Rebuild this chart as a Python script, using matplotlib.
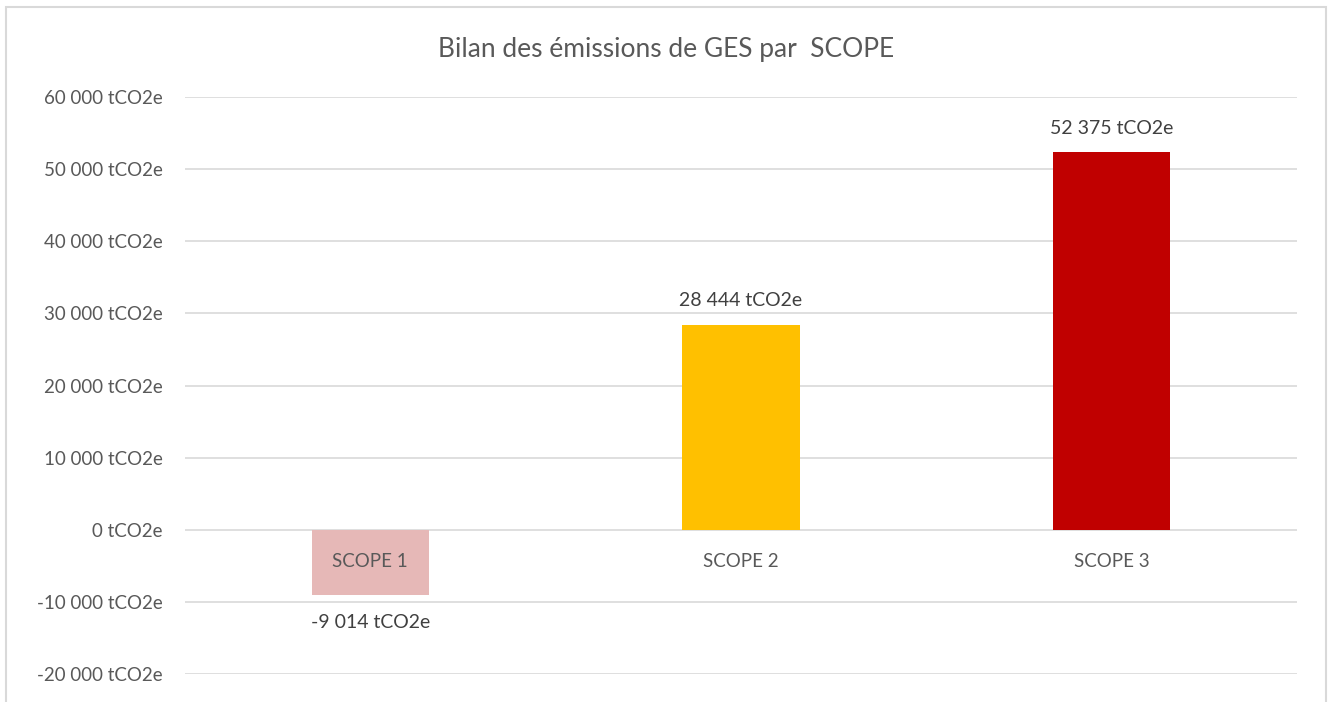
import matplotlib.pyplot as plt
from matplotlib.patches import Rectangle

# chart data
scopes = ["SCOPE 1", "SCOPE 2", "SCOPE 3"]
emissions = [-9014, 28444, 52375]
bar_colors = ["#E6B8B7", "#FFC000", "#C00000"]
y_ticks = [-20000, -10000, 0, 10000, 20000, 30000, 40000, 50000, 60000]

TEXT = "#595959"
GRID = "#D9D9D9"


def fmt(v):
    # french style thousands separator
    return f"{v:,.0f}".replace(",", " ") + " tCO2e"


plt.rcParams["font.family"] = ["Lato", "DejaVu Sans"]

fig = plt.figure(figsize=(13.33, 7.02), dpi=100)
ax = fig.add_axes([0.1388, 0.0399, 0.8342, 0.8219])

# outer chart border (bottom edge is cut off in the original)
fig.patches.append(Rectangle((6 / 1333, -0.05), 1320 / 1333, 1.05 - 7 / 702,
                             transform=fig.transFigure, fill=False,
                             edgecolor=GRID, linewidth=1.5))

x = list(range(len(scopes)))
ax.bar(x, emissions, width=0.316, color=bar_colors, zorder=2)

ax.set_xlim(-0.5, 2.5)
ax.set_ylim(-20000, 60000)
ax.set_yticks(y_ticks)
ax.set_yticklabels([fmt(v) for v in y_ticks])
ax.tick_params(axis="y", length=0, pad=16, labelsize=13.5, labelcolor=TEXT)
ax.set_xticks([])
ax.grid(axis="y", color=GRID, linewidth=1.2, zorder=0)
for s in ax.spines.values():
    s.set_visible(False)

# category names sit just under the zero line
for i, name in enumerate(scopes):
    ax.annotate(name, (i, 0), xytext=(0, -23), textcoords="offset points",
                ha="center", va="center", fontsize=13.5, color=TEXT)

# value labels
for i, v in enumerate(emissions):
    off = 17 if v >= 0 else -20
    ax.annotate(fmt(v), (i, v), xytext=(0, off), textcoords="offset points",
                ha="center", va="center", fontsize=14, color="#404040")

fig.text(0.4996, 1 - 50 / 702, "Bilan des émissions de GES par  SCOPE",
         ha="center", va="center", fontsize=19, color=TEXT)

fig.savefig("out.png", dpi=100)
